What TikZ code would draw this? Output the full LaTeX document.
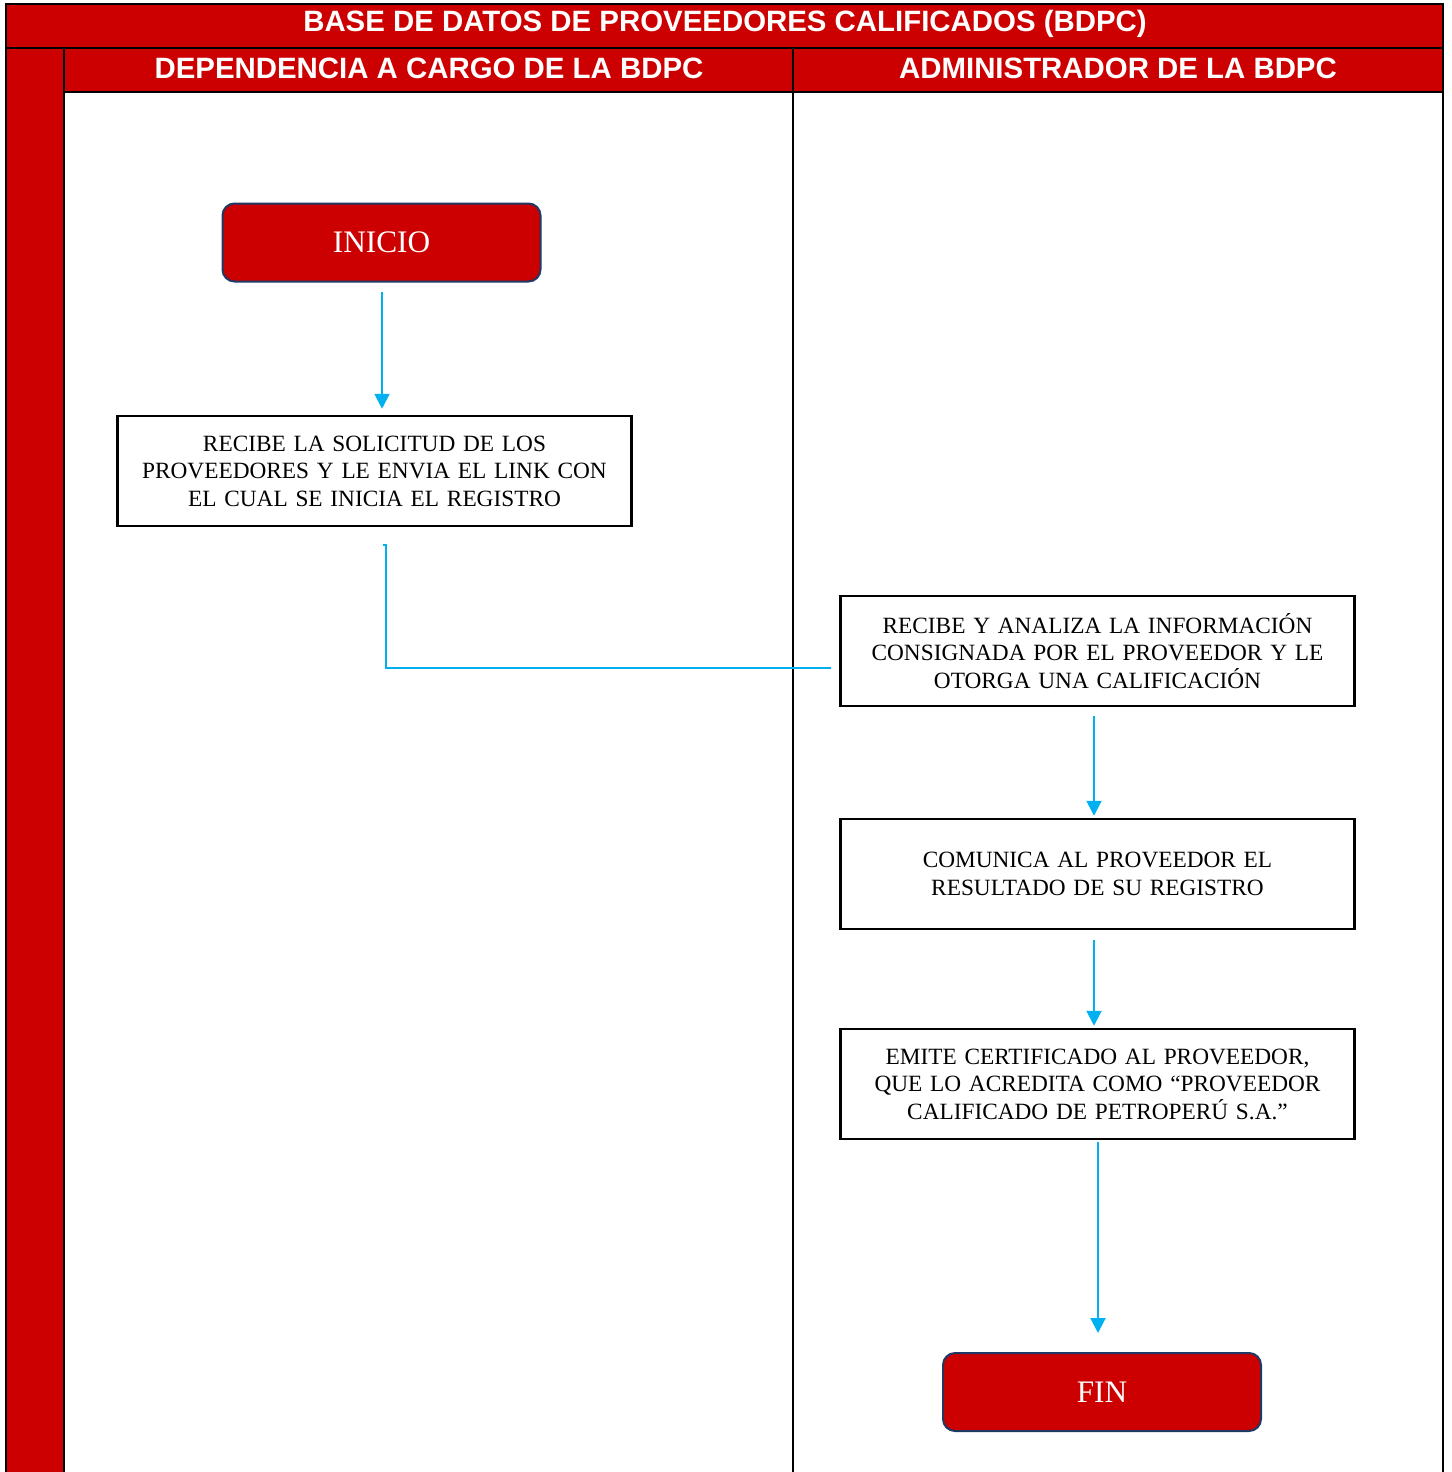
\documentclass[tikz,border=0pt]{standalone}
\usepackage{fontspec}
\setmainfont{Liberation Serif}
\newfontfamily\hdrfont{Liberation Sans}
\usetikzlibrary{arrows.meta}
\definecolor{bdred}{RGB}{204,0,0}
\definecolor{bdnavy}{RGB}{31,56,100}
\definecolor{bdblue}{RGB}{0,176,240}
\begin{document}
\begin{tikzpicture}[x=1pt,y=-1pt,
  hdr/.style={text=white,font=\hdrfont\bfseries\fontsize{29.4}{33}\selectfont,inner sep=0pt},
  term/.style={draw=bdnavy,line width=2pt,fill=bdred,rounded corners=12pt,
    minimum width=318pt,minimum height=78pt,text=white,font=\fontsize{31.3}{35}\selectfont},
  procbox/.style={draw=black,line width=2.5pt,minimum width=514pt,minimum height=110pt,
    text width=505pt,align=center,font=\fontsize{23.3}{27.5}\selectfont,inner sep=0pt},
  flow/.style={draw=bdblue,line width=2pt},
  flowarr/.style={flow,-{Triangle[width=15pt,length=15pt]}},
  frame/.style={draw=black,line width=2pt}]
\useasboundingbox (0,0) rectangle (1451,1472);
% red bands
\fill[bdred] (6,4) rectangle (1443,92);
\fill[bdred] (6,92) rectangle (64,1472);
% frame lines
\draw[frame] (6,1472) -- (6,4) -- (1443,4) -- (1443,1472);
\draw[frame] (6,48) -- (1443,48);
\draw[frame] (64,92) -- (1443,92);
\draw[frame] (64,48) -- (64,1472);
\draw[frame] (793,48) -- (793,1472);
% headers
\node[hdr] (title) at (725,24) {BASE DE DATOS DE PROVEEDORES CALIFICADOS (BDPC)};
\node[hdr] (lane1) at (429,68) {DEPENDENCIA A CARGO DE LA BDPC};
\node[hdr] (lane2) at (1118,68) {ADMINISTRADOR DE LA BDPC};
% nodes
\node[term] (inicio) at (381.5,242.5) {INICIO};
\node[procbox] (b1) at (374.5,471) {RECIBE LA SOLICITUD DE LOS\\PROVEEDORES Y LE ENVIA EL LINK CON\\EL CUAL SE INICIA EL REGISTRO};
\node[procbox] (b2) at (1097.5,651) {RECIBE Y ANALIZA LA INFORMACIÓN\\CONSIGNADA POR EL PROVEEDOR Y LE\\OTORGA UNA CALIFICACIÓN};
\node[procbox] (b3) at (1097.5,874) {COMUNICA AL PROVEEDOR EL\\RESULTADO DE SU REGISTRO};
\node[procbox] (b4) at (1097.5,1084) {EMITE CERTIFICADO AL PROVEEDOR,\\QUE LO ACREDITA COMO “PROVEEDOR\\CALIFICADO DE PETROPERÚ S.A.”};
\node[term] (fin) at (1102,1392) {FIN};
% connectors
\draw[flowarr,shorten <=9pt,shorten >=6pt] ([xshift=0.5pt]inicio.south) -- ([xshift=0.5pt]inicio.south |- b1.north);
\coordinate (c1) at ([xshift=8.5pt,yshift=-17.5pt]b1.south);
\draw[flow,shorten >=8pt] (c1) -- ++(3,0) |- ([yshift=-17pt]b2.west);
\draw[flowarr,shorten <=9pt,shorten >=2pt] ([xshift=-3.5pt]b2.south) -- ([xshift=-3.5pt]b2.south |- b3.north);
\draw[flowarr,shorten <=10pt,shorten >=2pt] ([xshift=-3.5pt]b3.south) -- ([xshift=-3.5pt]b3.south |- b4.north);
\draw[flowarr,shorten <=2pt,shorten >=19pt] ([xshift=0.5pt]b4.south) -- ([xshift=0.5pt]b4.south |- fin.north);
\end{tikzpicture}
\end{document}
